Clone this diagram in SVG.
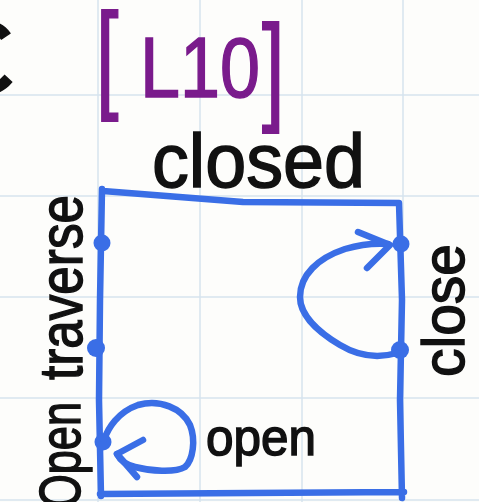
<svg xmlns="http://www.w3.org/2000/svg" width="479" height="502" viewBox="0 0 479 502">
<style>
.grid{stroke:#d6e3ee;stroke-width:1.5}
.blue{fill:none;stroke:#3a6ee6;stroke-width:6.5;stroke-linecap:round;stroke-linejoin:round}
.dot{fill:#3a6ee6}
.lbl{font-family:"Liberation Sans","DejaVu Sans",sans-serif;fill:#111;stroke:#111;stroke-width:1.5}
.ttl{font-family:"Liberation Sans","DejaVu Sans",sans-serif;fill:#7a1b8c;stroke:#7a1b8c;stroke-width:1.5}
</style>
<rect width="479" height="502" fill="#fdfdfb"/>
<g id="grid">
<line class="grid" x1="98" y1="0" x2="98" y2="502"/>
<line class="grid" x1="200" y1="0" x2="200" y2="502"/>
<line class="grid" x1="302" y1="0" x2="302" y2="502"/>
<line class="grid" x1="403" y1="0" x2="403" y2="502"/>
<line class="grid" x1="0" y1="95" x2="479" y2="95"/>
<line class="grid" x1="0" y1="196" x2="479" y2="196"/>
<line class="grid" x1="0" y1="297" x2="479" y2="297"/>
<line class="grid" x1="0" y1="398" x2="479" y2="398"/>
<line class="grid" x1="0" y1="500" x2="479" y2="500"/>
</g>
<text class="lbl" x="-46" y="94" font-size="135">ε</text>
<g id="title">
<text class="ttl" transform="translate(96,96) scale(0.85,1.25)" font-size="95">[</text>
<text class="ttl" x="140" y="97" font-size="86" textLength="120" lengthAdjust="spacingAndGlyphs">L10</text>
<text class="ttl" transform="translate(262,108) scale(0.85,1.25)" font-size="95">]</text>
</g>
<g id="box">
<path class="blue" d="M103,191 L243,202 L399,203 L402,300 L400,400 L402,498 M100,494 L250,493 L404,492 M102,189 L100,300 L99,400 L101,496"/>
</g>
<g id="node-closed">
<text class="lbl" x="152" y="187" font-size="76" textLength="213" lengthAdjust="spacingAndGlyphs">closed</text>
</g>
<g id="node-traverse-1"><circle class="dot" cx="102" cy="243" r="8.5"/></g>
<g id="node-traverse-2"><circle class="dot" cx="96" cy="348" r="9"/></g>
<g id="node-open"><circle class="dot" cx="103" cy="442" r="8.5"/></g>
<g id="node-close-1"><circle class="dot" cx="401" cy="244" r="8.5"/></g>
<g id="node-close-2"><circle class="dot" cx="400" cy="350" r="9"/></g>
<g id="connectors">
<path class="blue" d="M397,353 C380,358 360,357 340,345 C318,332 300,315 300,297 C300,275 318,258 345,249 C362,244 375,243 388,244"/>
<path class="blue" d="M358,232 L390,245 L367,268"/>
<path class="blue" d="M104,440 C108,428 118,412 138,405 C160,399 182,408 190,425 C196,440 193,460 185,467 C175,473 150,471 135,467 C127,465 120,460 117,454"/>
<path class="blue" d="M143,440 L117,454 L137,477"/>
</g>
<text class="lbl" transform="translate(82,380) rotate(-90)" font-size="62" textLength="185" lengthAdjust="spacingAndGlyphs">traverse</text>
<text class="lbl" transform="translate(464,377) rotate(-90)" font-size="60" textLength="133" lengthAdjust="spacingAndGlyphs">close</text>
<text class="lbl" transform="translate(80,508) rotate(-90)" font-size="58" textLength="106" lengthAdjust="spacingAndGlyphs">Open</text>
<text class="lbl" x="206" y="455" font-size="52" textLength="110" lengthAdjust="spacingAndGlyphs">open</text>
</svg>
